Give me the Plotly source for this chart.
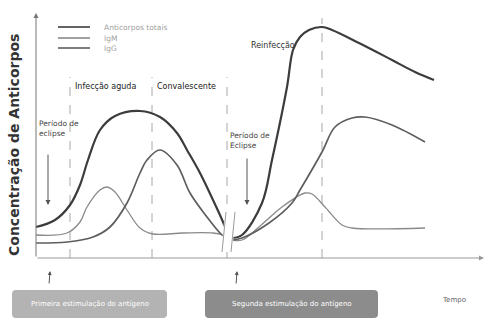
import plotly.graph_objects as go

# ---- data (time t, concentration c; arbitrary units) ----
total1_t = [0, 19, 34, 44, 52, 64, 79, 104, 124, 141, 151, 164, 177, 187, 192]
total1_c = [31, 38, 53, 73, 98, 128, 142, 147, 141, 125, 108, 85, 58, 36, 23]
total2_t = [196, 206, 226, 236, 251, 257, 264, 273, 286, 296, 323, 356, 379, 398]
total2_c = [20, 23, 55, 98, 171, 208, 221, 228, 231, 228, 215, 198, 186, 178]

igg1_t = [0, 31, 57, 74, 91, 104, 111, 124, 141, 154, 171, 184, 192]
igg1_c = [15, 16, 21, 31, 55, 85, 98, 108, 93, 65, 41, 25, 18]
igg2_t = [196, 206, 233, 256, 264, 286, 299, 316, 329, 356, 389]
igg2_c = [18, 20, 35, 55, 68, 106, 131, 140, 141, 133, 116]

igm1_t = [0, 31, 44, 51, 64, 71, 79, 91, 104, 117, 147, 177, 187, 192]
igm1_c = [23, 25, 36, 51, 68, 71, 66, 48, 30, 24, 25, 25, 23, 20]
igm2_t = [196, 206, 223, 246, 269, 276, 289, 306, 316, 389]
igm2_c = [18, 18, 31, 51, 65, 64, 51, 33, 30, 30]

phase_t = [34, 116, 191, 286]
phase_top = [181, 181, 181, 240]

legend_labels = ["Anticorpos totais", "IgM", "IgG"]

C_TOTAL = "#3c3c3c"
C_IGG = "#5e5e5e"
C_IGM = "#8a8a8a"

fig = go.Figure()

# phase dividers
for t, top in zip(phase_t, phase_top):
    fig.add_trace(go.Scatter(x=[t, t], y=[0, top], mode="lines",
                             line=dict(color="#a8a8a8", width=1, dash="dash"),
                             hoverinfo="skip", showlegend=False))

def curve(t, c, color, w):
    fig.add_trace(go.Scatter(x=t, y=c, mode="lines",
                             line=dict(color=color, width=w, shape="spline", smoothing=1.0),
                             hoverinfo="skip", showlegend=False))

curve(igm1_t, igm1_c, C_IGM, 1.3)
curve(igm2_t, igm2_c, C_IGM, 1.3)
curve(igg1_t, igg1_c, C_IGG, 1.7)
curve(igg2_t, igg2_c, C_IGG, 1.7)
curve(total1_t, total1_c, C_TOTAL, 2.2)
curve(total2_t, total2_c, C_TOTAL, 2.2)

# legend lines
leg_c = [231, 220, 210]
leg_col = [C_TOTAL, C_IGM, C_IGG]
for c, col in zip(leg_c, leg_col):
    fig.add_trace(go.Scatter(x=[22, 54], y=[c, c], mode="lines",
                             line=dict(color=col, width=1.6),
                             hoverinfo="skip", showlegend=False))

# axis break mark
fig.add_shape(type="path", path="M 189,46 L 185,6 L 196,6 L 200,46 Z",
              fillcolor="white", line=dict(width=0), layer="above")
fig.add_shape(type="line", x0=190, y0=46, x1=186, y1=6, line=dict(color="#9a9a9a", width=1), layer="above")
fig.add_shape(type="line", x0=199, y0=46, x1=195, y1=6, line=dict(color="#9a9a9a", width=1), layer="above")

ann = []
# axes with arrows
ann.append(dict(x=448, y=0, ax=0, ay=0, xref="x", yref="y", axref="x", ayref="y",
                showarrow=True, arrowhead=2, arrowsize=1, arrowwidth=1, arrowcolor="#999", text=""))
ann.append(dict(x=0, y=245, ax=0, ay=0, xref="x", yref="y", axref="x", ayref="y",
                showarrow=True, arrowhead=2, arrowsize=1, arrowwidth=1, arrowcolor="#777", text=""))
# eclipse arrows
ann.append(dict(x=12, y=53, ax=12, ay=105, xref="x", yref="y", axref="x", ayref="y",
                showarrow=True, arrowhead=2, arrowsize=1, arrowwidth=1, arrowcolor="#555", text=""))
ann.append(dict(x=211, y=53, ax=211, ay=101, xref="x", yref="y", axref="x", ayref="y",
                showarrow=True, arrowhead=2, arrowsize=1, arrowwidth=1, arrowcolor="#555", text=""))
# stimulation arrows
ann.append(dict(x=14, y=-13, ax=13, ay=-27, xref="x", yref="y", axref="x", ayref="y",
                showarrow=True, arrowhead=2, arrowsize=0.8, arrowwidth=1, arrowcolor="#555", text=""))
ann.append(dict(x=201, y=-13, ax=200, ay=-27, xref="x", yref="y", axref="x", ayref="y",
                showarrow=True, arrowhead=2, arrowsize=0.8, arrowwidth=1, arrowcolor="#555", text=""))

FONT = "DejaVu Sans"
def txt(x, y, s, size=8, color="#333", xanchor="left", yanchor="middle", bold=False, angle=0):
    ann.append(dict(x=x, y=y, xref="x", yref="y", text=(f"<b>{s}</b>" if bold else s),
                    showarrow=False, xanchor=xanchor, yanchor=yanchor, textangle=angle,
                    align="left", font=dict(family=FONT, size=size, color=color)))

for c, lab in zip(leg_c, legend_labels):
    txt(66, c, lab, size=7.5, color="#a0a0a0")

txt(37, 172, "Infecção aguda", size=8, color="#222")
txt(119, 172, "Convalescente", size=8, color="#222")
txt(1, 141, "Período de<br>eclipse", size=7.5, color="#444", yanchor="top")
txt(192, 129, "Período de<br>Eclipse", size=7.5, color="#444", yanchor="top")
txt(261, 213, "Reinfecção", size=8, color="#333", xanchor="right")
txt(404, -42, "Tempo", size=7, color="#666")

# y-axis title
ann.append(dict(x=-22, y=113, xref="x", yref="y", text="<b>Concentração de Anticorpos</b>",
                showarrow=False, textangle=-90, xanchor="center", yanchor="middle",
                font=dict(family=FONT, size=14, color="#333")))

# bottom boxes
def rbox(x0, x1, y0, y1, r, color):
    path = (f"M {x0+r},{y1} L {x1-r},{y1} Q {x1},{y1} {x1},{y1-r} L {x1},{y0+r} "
            f"Q {x1},{y0} {x1-r},{y0} L {x0+r},{y0} Q {x0},{y0} {x0},{y0+r} "
            f"L {x0},{y1-r} Q {x0},{y1} {x0+r},{y1} Z")
    fig.add_shape(type="path", path=path, fillcolor=color, line=dict(width=0))

rbox(-24, 131, -60, -32, 4, "#b3b3b3")
rbox(169, 342, -60, -32, 4, "#8c8c8c")
txt(53.5, -46, "Primeira estimulação do antígeno", size=7, color="white", xanchor="center")
txt(255.5, -46, "Segunda estimulação do antígeno", size=7, color="white", xanchor="center")

fig.update_layout(
    width=484, height=319,
    margin=dict(l=0, r=0, t=0, b=0),
    paper_bgcolor="white", plot_bgcolor="white",
    xaxis=dict(range=[-36, 448], visible=False, fixedrange=True),
    yaxis=dict(range=[-61, 258], visible=False, fixedrange=True),
    annotations=ann,
    showlegend=False,
)

fig.write_html("out.html", config={"displayModeBar": False},
               post_script="document.body.style.margin='0';document.body.style.overflow='hidden';")
